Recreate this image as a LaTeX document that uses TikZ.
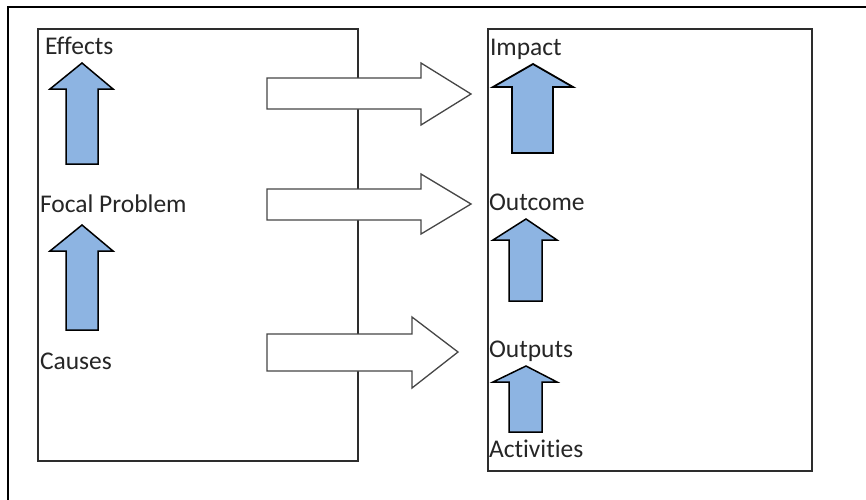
\documentclass[tikz,border=0pt]{standalone}
\usepackage{fontspec}
\setmainfont[Ligatures=NoCommon]{Carlito}
\definecolor{arrowblue}{RGB}{141,180,226}
\definecolor{boxgray}{RGB}{45,45,45}
\definecolor{outlinegray}{RGB}{70,70,70}
\begin{document}
\begin{tikzpicture}[x=1pt,y=-1pt,
  frame/.style={draw=black,line width=2pt},
  panel/.style={draw=boxgray,line width=1.5pt},
  bigarrow/.style={draw=outlinegray,fill=white,line width=1.3pt,line join=miter},
  uparrow/.style={draw=black,fill=arrowblue,line width=1.5pt,line join=miter},
  lbl/.style={anchor=base west,inner sep=0pt,outer sep=0pt,text=black!85,font=\fontsize{25.5}{30}\selectfont}]
\useasboundingbox (0,0) rectangle (866,499);
\fill[white] (0,0) rectangle (866,499);

% outer frame running off the page
\draw[frame] (8,520) -- (8,7) -- (880,7);

% the two panels
\draw[panel] (38,29) rectangle (358,461);
\draw[panel] (488,29) rectangle (812,471);

% block arrows linking the panels
\draw[bigarrow] (267,78) -- (421,78) -- (421,63) -- (471,94) -- (421,125) -- (421,109) -- (267,109) -- cycle;
\draw[bigarrow] (267,189) -- (421,189) -- (421,174) -- (471,204) -- (421,234) -- (421,220) -- (267,220) -- cycle;
\draw[bigarrow] (267,334) -- (412,334) -- (412,317) -- (458,352) -- (412,388) -- (412,371) -- (267,371) -- cycle;

% left panel: problem tree
\node[lbl] (effects) at (45,54) {Effects};
\node[lbl] (focal) at (40,212) {Focal Problem};
\node[lbl] (causes) at (40,369) {Causes};
\draw[uparrow] (82,63) -- (113,89) -- (98,89) -- (98,164) -- (66,164) -- (66,89) -- (50,89) -- cycle;
\draw[uparrow] (82,225) -- (113,251) -- (98,251) -- (98,330) -- (66,330) -- (66,251) -- (50,251) -- cycle;

% right panel: results chain
\node[lbl] (impact) at (490,55) {Impact};
\node[lbl] (outcome) at (489,210) {Outcome};
\node[lbl] (outputs) at (489,357) {Outputs};
\node[lbl] (activities) at (489,457) {Activities};
\draw[uparrow,line width=1.8pt] (533,64) -- (573,87) -- (553,87) -- (553,153) -- (512,153) -- (512,87) -- (493,87) -- cycle;
\draw[uparrow] (526,219) -- (557,240) -- (542,240) -- (542,301) -- (509,301) -- (509,240) -- (493,240) -- cycle;
\draw[uparrow] (526,366) -- (557,382) -- (542,382) -- (542,432) -- (509,432) -- (509,382) -- (493,382) -- cycle;
\end{tikzpicture}
\end{document}
